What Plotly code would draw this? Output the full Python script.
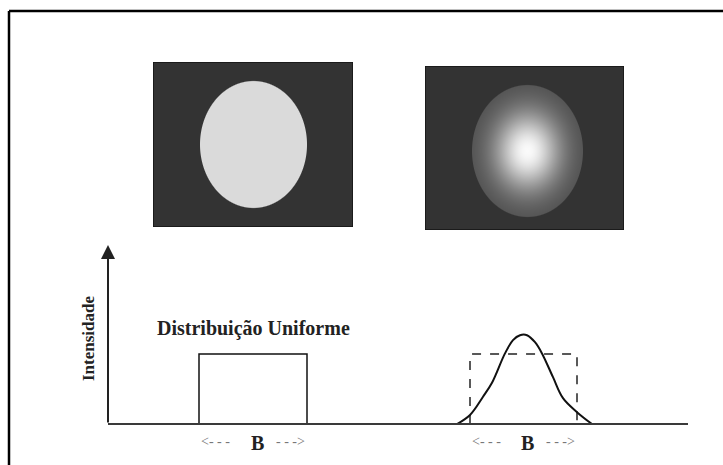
import numpy as np
import plotly.graph_objects as go

W, H = 723, 465

# ---- intensity profiles (position units, intensity relative to uniform level) ----
uniform_x = [9.1, 9.1, 19.9, 19.9]
uniform_y = [0, 1.0, 1.0, 0]

ref_box_x = [36.2, 36.2, 46.9, 46.9]
ref_box_y = [0, 1.0, 1.0, 0]

gauss_x = [34.9, 36.2, 37.5, 38.4, 39.7, 40.5, 41.2, 41.9, 42.7, 43.4, 44.5, 45.5, 46.9, 48.4]
gauss_y = [0.0, 0.13, 0.39, 0.59, 1.01, 1.20, 1.27, 1.27, 1.17, 1.01, 0.67, 0.37, 0.17, 0.0]

axis_len_x = 58.0
axis_top_y = 2.56

label_uniform = "Distribuição Uniforme"
label_y = "Intensidade"
label_width = "B"

# ---- spot images (grey levels 0..1) ----
bg_level = 0.2
flat_level = 0.855
img1_size = (200, 165)          # width, height in cells
img1_spot = (100.5, 82.5, 53.5, 63.5)   # cx, cy, rx, ry
img2_size = (199, 164)
img2_spot = (102.5, 85.0, 55.5, 66.0)
glow_edge, glow_peak, glow_width = 0.30, 0.98, 0.34


def spot_field(size, spot, kind):
    w, h = size
    cx, cy, rx, ry = spot
    xx, yy = np.meshgrid(np.arange(w) + 0.5, np.arange(h) + 0.5)
    r = np.sqrt(((xx - cx) / rx) ** 2 + ((yy - cy) / ry) ** 2)
    inside = np.clip((1 - r) * min(rx, ry) + 0.5, 0, 1)
    if kind == "flat":
        val = np.full_like(r, flat_level)
    else:
        val = glow_edge + (glow_peak - glow_edge) * np.exp(-(r ** 2) / glow_width)
    return bg_level + (val - bg_level) * inside


def px_dom_x(a, b):
    return [a / W, b / W]


def px_dom_y(top, bottom):
    return [(H - bottom) / H, (H - top) / H]


fig = go.Figure()
grey = [[0, "rgb(0,0,0)"], [1, "rgb(255,255,255)"]]

z1 = spot_field(img1_size, img1_spot, "flat")
fig.add_trace(go.Heatmap(z=z1, x=np.arange(img1_size[0]) + 0.5, y=np.arange(img1_size[1]) + 0.5,
                         colorscale=grey, zmin=0, zmax=1, showscale=False, hoverinfo="skip",
                         xaxis="x3", yaxis="y3"))
z2 = spot_field(img2_size, img2_spot, "glow")
fig.add_trace(go.Heatmap(z=z2, x=np.arange(img2_size[0]) + 0.5, y=np.arange(img2_size[1]) + 0.5,
                         colorscale=grey, zmin=0, zmax=1, showscale=False, hoverinfo="skip",
                         xaxis="x4", yaxis="y4"))

# profiles
fig.add_trace(go.Scatter(x=uniform_x, y=uniform_y, mode="lines",
                         line=dict(color="#111", width=1.5), xaxis="x2", yaxis="y2",
                         hoverinfo="skip"))
fig.add_trace(go.Scatter(x=ref_box_x, y=ref_box_y, mode="lines",
                         line=dict(color="#222", width=1.5, dash="dash"), xaxis="x2", yaxis="y2",
                         hoverinfo="skip"))
fig.add_trace(go.Scatter(x=gauss_x, y=gauss_y, mode="lines", line_shape="spline",
                         line=dict(color="#111", width=2), xaxis="x2", yaxis="y2",
                         hoverinfo="skip"))

hidden = dict(visible=False, fixedrange=True)
fig.update_layout(
    width=W, height=H,
    margin=dict(l=0, r=0, t=0, b=0),
    paper_bgcolor="white", plot_bgcolor="white",
    showlegend=False,
    xaxis=dict(domain=[0, 1], range=[0, 1], **hidden),
    yaxis=dict(domain=[0, 1], range=[0, 1], **hidden),
    xaxis2=dict(domain=px_dom_x(108, 688), range=[0, axis_len_x], anchor="y2", **hidden),
    yaxis2=dict(domain=px_dom_y(245, 462.5), range=[-0.55, axis_top_y], anchor="x2", **hidden),
    xaxis3=dict(domain=px_dom_x(153, 353), range=[0, img1_size[0]], anchor="y3", **hidden),
    yaxis3=dict(domain=px_dom_y(62, 227), range=[img1_size[1], 0], anchor="x3", **hidden),
    xaxis4=dict(domain=px_dom_x(425, 624), range=[0, img2_size[0]], anchor="y4", **hidden),
    yaxis4=dict(domain=px_dom_y(66, 230), range=[img2_size[1], 0], anchor="x4", **hidden),
)

shapes = [
    # outer frame (left and top edges)
    dict(type="line", xref="paper", yref="paper", x0=9 / W, x1=9 / W, y0=0, y1=1 - 11 / H,
         line=dict(color="black", width=2.5)),
    dict(type="line", xref="paper", yref="paper", x0=9 / W, x1=1, y0=1 - 11 / H, y1=1 - 11 / H,
         line=dict(color="black", width=2.5)),
    # image borders
    dict(type="rect", xref="x3", yref="y3", x0=0, x1=img1_size[0], y0=0, y1=img1_size[1],
         line=dict(color="#151515", width=1.5)),
    dict(type="rect", xref="x4", yref="y4", x0=0, x1=img2_size[0], y0=0, y1=img2_size[1],
         line=dict(color="#151515", width=1.5)),
    # baseline
    dict(type="line", xref="x2", yref="y2", x0=0, x1=axis_len_x, y0=0, y1=0,
         line=dict(color="#3a3a3a", width=2)),
]
fig.update_layout(shapes=shapes)

serif = "Liberation Serif"
ann = [
    # vertical intensity axis with arrow
    dict(x=0, y=axis_top_y, ax=0, ay=0, xref="x2", yref="y2", axref="x2", ayref="y2",
         text="", showarrow=True, arrowhead=2, arrowsize=1.4, arrowwidth=2, arrowcolor="#222"),
    dict(x=88 / W, y=1 - 339 / H, xref="paper", yref="paper", text=f"<b>{label_y}</b>",
         xanchor="center", yanchor="middle",
         textangle=-90, showarrow=False, font=dict(family=serif, size=17, color="#222")),
    dict(x=(uniform_x[0] + uniform_x[2]) / 2, y=1.36, xref="x2", yref="y2",
         xanchor="center", yanchor="middle",
         text=f"<b>{label_uniform}</b>", showarrow=False,
         font=dict(family=serif, size=20, color="#222")),
]
for x0, x1 in [(uniform_x[0], uniform_x[2]), (ref_box_x[0], ref_box_x[2])]:
    mid = (x0 + x1) / 2
    span = x1 - x0
    ann += [
        dict(x=mid + 0.04 * span, y=-0.27, xref="x2", yref="y2", text=f"<b>{label_width}</b>",
             xanchor="center", yanchor="middle",
             showarrow=False, font=dict(family=serif, size=20, color="#222")),
        dict(x=x0 + 0.15 * span, y=-0.25, xref="x2", yref="y2", text="&lt;- - -",
             xanchor="center", yanchor="middle",
             showarrow=False, font=dict(family=serif, size=14, color="#777")),
        dict(x=x1 - 0.15 * span, y=-0.25, xref="x2", yref="y2", text="- - -&gt;",
             xanchor="center", yanchor="middle",
             showarrow=False, font=dict(family=serif, size=14, color="#777")),
    ]
fig.update_layout(annotations=ann)

fig.write_html("out.html")
